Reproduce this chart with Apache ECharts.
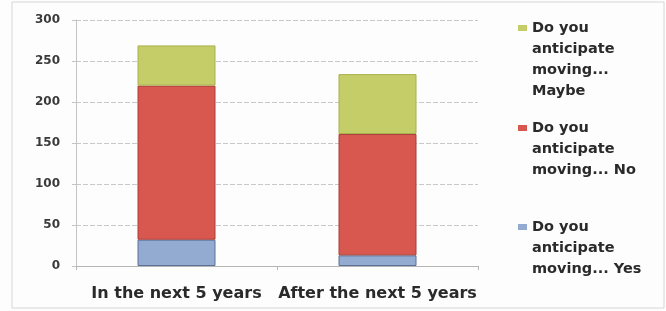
<!DOCTYPE html>
<html><head><meta charset="utf-8">
<script src="https://cdn.jsdelivr.net/npm/echarts@6/dist/echarts.min.js"></script>
<style>html,body{margin:0;padding:0;background:#fff}#c{width:666px;height:311px}</style>
</head><body><div id="c"></div>
<script>
const categories = ['In the next 5 years', 'After the next 5 years'];
const yesValues = [32, 13];
const noValues = [188, 148];
const maybeValues = [49, 73];
const seriesNames = ['Do you anticipate moving... Yes', 'Do you anticipate moving... No', 'Do you anticipate moving... Maybe'];
const yTicks = [0, 50, 100, 150, 200, 250, 300];

const colors = {yes: '#93abd0', no: '#d8574f', maybe: '#c5cd68'};
const borders = {yes: '#5d7196', no: '#a8403a', maybe: '#a9b14f'};

function legendName(n) {
  return n.replace('Do you anticipate moving... Maybe', 'Do you\nanticipate\nmoving...\nMaybe')
          .replace('Do you anticipate moving... ', 'Do you\nanticipate\nmoving... ');
}
function iconFor(h) {
  return 'path://M0,0h0.01v0.01h-0.01z M0,7h9v6h-9z M0,' + (h - 0.01) + 'h0.01v0.01h-0.01z';
}
const legendText = {fontFamily: 'DejaVu Sans', fontSize: 14.5, fontWeight: 'bold', color: '#2a2a2a', lineHeight: 21};
function mkLegend(name, top, h) {
  return {
    data: [name], left: 518, top: top, orient: 'vertical', padding: 0,
    itemWidth: 9, itemHeight: h, icon: iconFor(h),
    itemStyle: {borderWidth: 0},
    formatter: legendName, textStyle: legendText, selectedMode: false
  };
}

const chart = echarts.init(document.getElementById('c'), null, {renderer: 'canvas'});
chart.setOption({
  animation: false,
  backgroundColor: '#fdfdfd',
  graphic: [{type: 'rect', shape: {x: 12, y: 2, width: 652, height: 306}, style: {fill: 'none', stroke: '#d6d6d6', lineWidth: 1}}],
  grid: {left: 76, right: 188, top: 20, bottom: 45},
  legend: [
    mkLegend(seriesNames[2], 18, 84),
    mkLegend(seriesNames[1], 118, 63),
    mkLegend(seriesNames[0], 217, 63)
  ],
  xAxis: {
    type: 'category', data: categories,
    axisLine: {lineStyle: {color: '#b5b5b5'}},
    axisTick: {show: true, length: 4, lineStyle: {color: '#b5b5b5'}},
    axisLabel: {margin: 20, fontFamily: 'DejaVu Sans', fontSize: 16, fontWeight: 'bold', color: '#2a2a2a', interval: 0}
  },
  yAxis: {
    type: 'value', min: yTicks[0], max: yTicks[yTicks.length - 1], interval: 50,
    axisLine: {show: true, lineStyle: {color: '#c4c4c4'}},
    axisTick: {show: true, length: 4, lineStyle: {color: '#c4c4c4'}},
    splitLine: {lineStyle: {color: '#c9c9c9', type: [5, 2]}},
    axisLabel: {margin: 16, fontFamily: 'DejaVu Sans', fontSize: 12, fontWeight: 'bold', color: '#3a3a3a'}
  },
  series: [
    {name: seriesNames[0], type: 'bar', stack: 's', data: yesValues, barWidth: 78,
     itemStyle: {color: colors.yes, borderColor: borders.yes, borderWidth: 1}},
    {name: seriesNames[1], type: 'bar', stack: 's', data: noValues, barWidth: 78,
     itemStyle: {color: colors.no, borderColor: borders.no, borderWidth: 1}},
    {name: seriesNames[2], type: 'bar', stack: 's', data: maybeValues, barWidth: 78,
     itemStyle: {color: colors.maybe, borderColor: borders.maybe, borderWidth: 1}}
  ]
});
</script></body></html>
